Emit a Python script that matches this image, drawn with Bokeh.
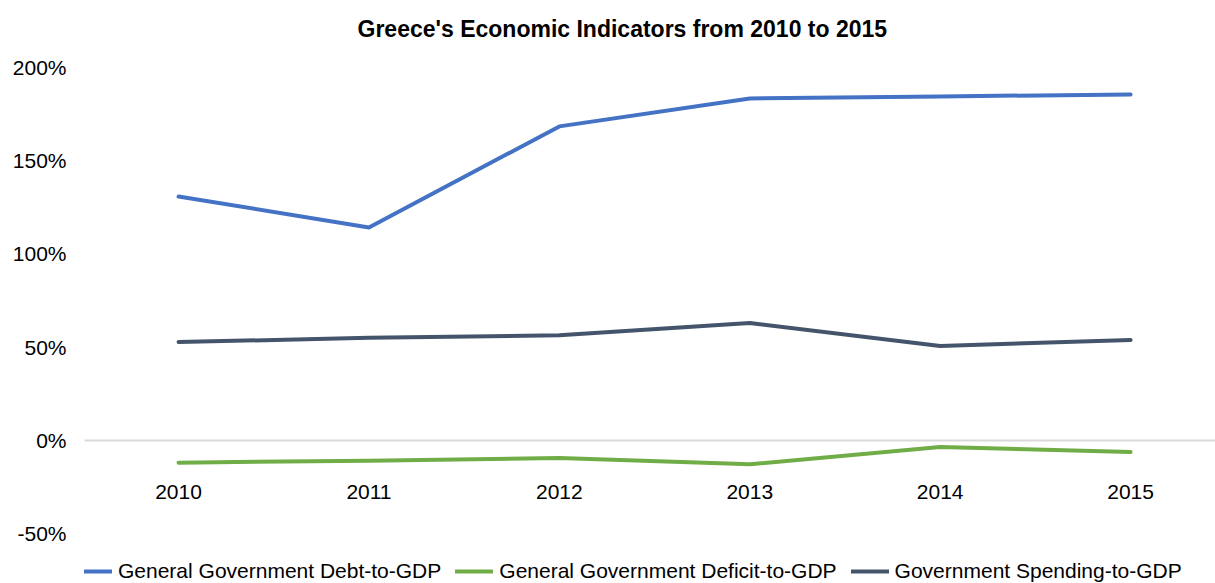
from bokeh.plotting import figure
from bokeh.models import (Range1d, FixedTicker, PrintfTickFormatter, Legend,
                          LegendItem, BasicTickFormatter)
from bokeh.embed import file_html
from bokeh.resources import INLINE

# ---- data ----
years = [2010, 2011, 2012, 2013, 2014, 2015]
debt_to_gdp = [130.8, 114.2, 168.4, 183.4, 184.5, 185.5]
deficit_to_gdp = [-12.0, -10.9, -9.5, -12.9, -3.6, -6.3]
spending_to_gdp = [52.7, 55.0, 56.3, 62.9, 50.6, 53.8]
series_names = ["General Government Debt-to-GDP",
                "General Government Deficit-to-GDP",
                "Government Spending-to-GDP"]
y_ticks = [-50, 0, 50, 100, 150, 200]
title_text = "Greece's Economic Indicators from 2010 to 2015"

colors = ["#4472C4", "#70AD47", "#44546A"]
FONT = "Liberation Sans"

p = figure(width=1215, height=583, output_backend="svg", toolbar_location=None,
           x_range=Range1d(2009.506, 2015.446), y_range=Range1d(-76.81, 208.04),
           min_border_left=84, min_border_right=0, min_border_top=52,
           min_border_bottom=0, background_fill_color="white",
           border_fill_color="white")
p.outline_line_color = None

# title
p.title.text = title_text
p.title.text_font = FONT
p.title.text_font_size = "23px"
p.title.text_font_style = "bold"
p.title.text_color = "#000000"
p.title.align = "left"
p.title.offset = 273
p.title.standoff = 22

# y axis
p.yaxis.ticker = FixedTicker(ticks=y_ticks)
p.yaxis.formatter = PrintfTickFormatter(format="%d%%")
p.yaxis.axis_line_color = None
p.yaxis.major_tick_line_color = None
p.yaxis.minor_tick_line_color = None
p.yaxis.major_tick_out = 0
p.yaxis.major_tick_in = 0
p.yaxis.major_label_standoff = 18
p.yaxis.major_label_text_font = FONT
p.yaxis.major_label_text_font_size = "21px"
p.yaxis.major_label_text_color = "#000000"

# x axis (category labels sit below the zero line)
p.xaxis.ticker = FixedTicker(ticks=years)
p.xaxis.formatter = BasicTickFormatter(use_scientific=False)
p.xaxis.fixed_location = -20
p.xaxis.axis_line_color = None
p.xaxis.major_tick_line_color = None
p.xaxis.minor_tick_line_color = None
p.xaxis.major_tick_out = 0
p.xaxis.major_tick_in = 0
p.xaxis.major_label_standoff = 7
p.xaxis.major_label_text_font = FONT
p.xaxis.major_label_text_font_size = "21px"
p.xaxis.major_label_text_color = "#000000"

# grid: only the zero line
p.xgrid.visible = False
p.ygrid.ticker = FixedTicker(ticks=[0])
p.ygrid.grid_line_color = "#D9D9D9"
p.ygrid.grid_line_width = 2

renderers = []
for vals, c in zip([debt_to_gdp, deficit_to_gdp, spending_to_gdp], colors):
    r = p.line(years, vals, line_color=c, line_width=4,
               line_cap="round", line_join="round")
    renderers.append(r)

legend = Legend(items=[LegendItem(label=n, renderers=[r])
                       for n, r in zip(series_names, renderers)],
                orientation="horizontal", location=(-10, 0),
                glyph_width=38, glyph_height=20, label_height=20,
                label_standoff=6, spacing=14, padding=0, margin=0,
                border_line_color=None, background_fill_alpha=0,
                label_text_font=FONT, label_text_font_size="21px",
                label_text_color="#000000")
p.add_layout(legend)

open("out.html", "w").write(file_html(p, INLINE))
